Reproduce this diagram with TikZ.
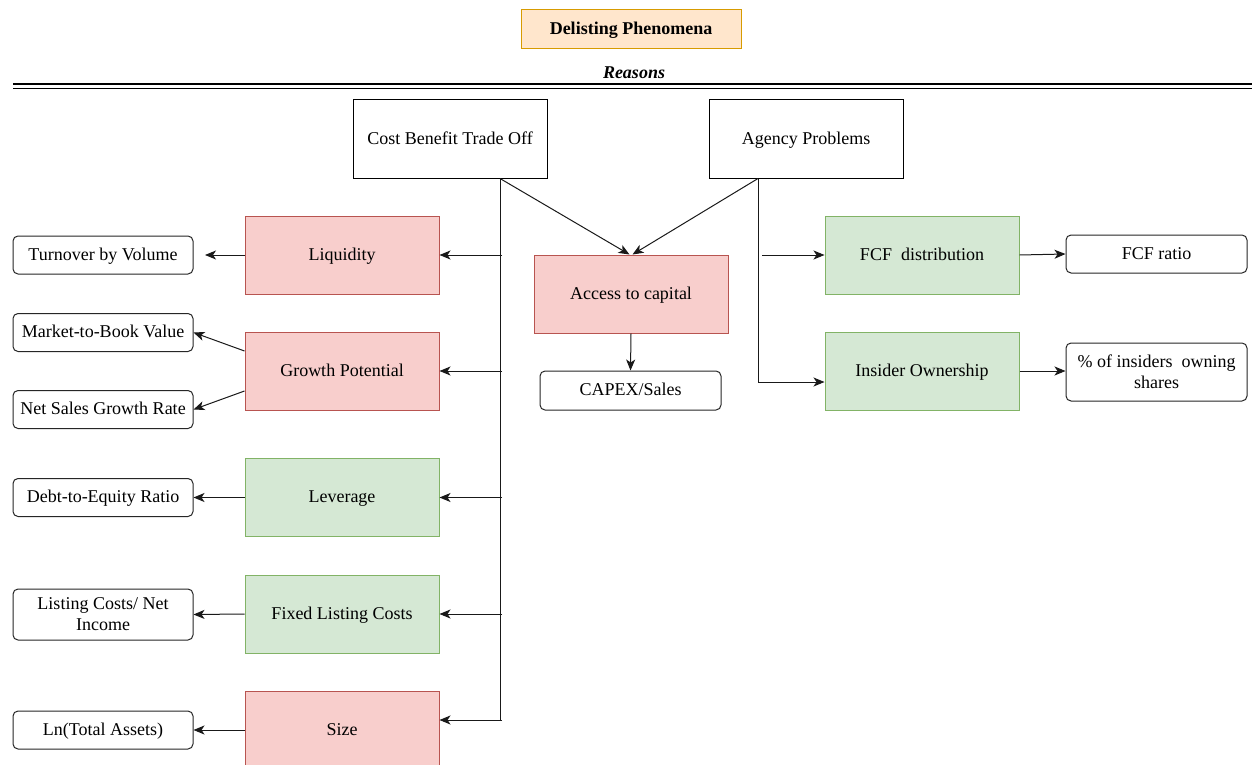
\documentclass[tikz,border=0pt]{standalone}
\usepackage{fontspec}
\setmainfont{Liberation Serif}
\usetikzlibrary{arrows.meta}
\definecolor{redfill}{HTML}{F8CECC}
\definecolor{redline}{HTML}{B85450}
\definecolor{greenfill}{HTML}{D5E8D4}
\definecolor{greenline}{HTML}{82B366}
\definecolor{orangefill}{HTML}{FFE6CC}
\definecolor{orangeline}{HTML}{D79B00}
\begin{document}
\begin{tikzpicture}[x=1pt,y=-1pt,
  every node/.style={font=\fontsize{18}{21}\selectfont, inner sep=0pt, align=center, text height=12pt, text depth=1.5pt},
  twoline/.style={text height=, text depth=},
  reasonbox/.style={draw=black, line width=1pt, fill=white, minimum width=194pt, minimum height=78pt},
  redbox/.style={draw=redline, fill=redfill, line width=1pt, minimum width=194pt, minimum height=78pt},
  greenbox/.style={draw=greenline, fill=greenfill, line width=1pt, minimum width=194pt, minimum height=78pt},
  measbox/.style={draw=black!85, line width=1pt, fill=white, rounded corners=5pt, minimum width=180pt, minimum height=38pt},
  conn/.style={line width=1pt, draw=black!90},
  arr/.style={conn, -{Stealth[length=11pt, width=9pt, inset=3pt]}},
]
\useasboundingbox (0,0) rectangle (1252,765);
\clip (0,0) rectangle (1252,765);

% title
\node[draw=orangeline, fill=orangefill, line width=1pt, minimum width=220pt, minimum height=39pt, font=\fontsize{18}{21}\selectfont\bfseries] (title) at (631,29.5) {Delisting Phenomena};
\node[font=\fontsize{18}{21}\selectfont\bfseries\itshape] (reasons) at (634,73) {Reasons};
\coordinate (dl1) at (13,84);
\coordinate (dr1) at (1252,84);
\coordinate (dl2) at (13,88.5);
\coordinate (dr2) at (1252,88.5);
\draw[line width=1.6pt] (dl1) -- (dr1);
\draw[line width=1.6pt] (dl2) -- (dr2);

% top reasons
\node[reasonbox] (cbt) at (450,139) {Cost Benefit Trade Off};
\node[reasonbox] (agp) at (806,139) {Agency Problems};

% left column
\node[redbox] (liq) at (342,255) {Liquidity};
\node[redbox] (grow) at (342,371) {Growth Potential};
\node[greenbox] (lev) at (342,497.5) {Leverage};
\node[greenbox] (flc) at (342,614) {Fixed Listing Costs};
\node[redbox] (size) at (342,730) {Size};

\node[measbox] (tbv) at (103,255) {Turnover by Volume};
\node[measbox] (mtb) at (103,332.5) {Market-to-Book Value};
\node[measbox] (nsg) at (103,409.5) {Net Sales Growth Rate};
\node[measbox] (der) at (103,497.5) {Debt-to-Equity Ratio};
\node[measbox, twoline, minimum height=51pt] (lcn) at (103,614.5) {Listing Costs/ Net\\Income};
\node[measbox] (lnta) at (103,730) {Ln(Total Assets)};

% center
\node[redbox] (acc) at (631,294) {Access to capital};
\node[measbox, minimum width=181pt, minimum height=39pt] (capex) at (630.5,390.5) {CAPEX/Sales};

% right
\node[greenbox] (fcf) at (922,255) {FCF\ \ distribution};
\node[greenbox] (ins) at (922,371) {Insider Ownership};
\node[measbox, minimum width=181pt] (fcfr) at (1156.5,254) {FCF ratio};
\node[measbox, twoline, minimum width=181pt, minimum height=58pt] (pct) at (1156.5,372) {\% of insiders\ \ owning\\shares};

% trunk of Cost Benefit Trade Off
\coordinate (trL) at (500,720);
\coordinate (stubL) at (502,720);
\draw[conn] (cbt.south -| trL) -- (trL) -- (stubL);
\draw[conn] (liq.east -| trL) -- (liq.east -| stubL);
\draw[conn] (grow.east -| trL) -- (grow.east -| stubL);
\draw[conn] (lev.east -| trL) -- (lev.east -| stubL);
\draw[conn] (flc.east -| trL) -- (flc.east -| stubL);
\draw[arr] (liq.east -| stubL) -- (liq.east);
\draw[arr] (grow.east -| stubL) -- (grow.east);
\draw[arr] (lev.east -| stubL) -- (lev.east);
\draw[arr] (flc.east -| stubL) -- (flc.east);
\draw[arr] (stubL) -- (stubL -| size.east);
\draw[arr] (cbt.south -| trL) -- ([xshift=-1.5pt]acc.north);

% trunk of Agency Problems
\coordinate (trR) at (758,382);
\coordinate (stubR) at (762,255);
\draw[conn] (agp.south -| trR) -- (trR);
\draw[arr] (agp.south -| trR) -- ([xshift=1.5pt]acc.north);
\draw[arr] (stubR) -- (fcf.west);
\draw[arr] (trR) -- (trR -| ins.west);

% measures
\coordinate (liqEnd) at (205,255);
\draw[arr] (liq.west) -- (liqEnd);
\draw[arr] ([yshift=20pt]grow.west) -- (mtb.east);
\draw[arr] ([yshift=-20pt]grow.west) -- (nsg.east);
\draw[arr] (lev.west) -- (der.east);
\draw[arr] (flc.west) -- (lcn.east);
\draw[arr] (size.west) -- (lnta.east);
\draw[arr] (acc.south) -- (capex.north);
\draw[arr] (fcf.east) -- (fcfr.west);
\draw[arr] (ins.east) -- (ins.east -| pct.west);
\end{tikzpicture}
\end{document}
